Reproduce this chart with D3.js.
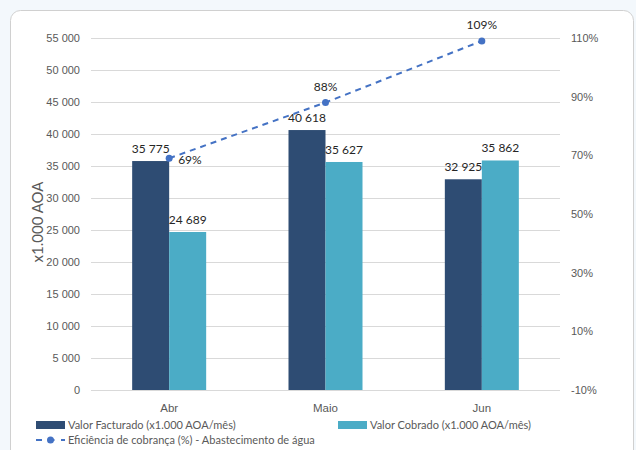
<!DOCTYPE html>
<html>
<head>
<meta charset="utf-8">
<script src="https://cdn.jsdelivr.net/npm/d3@7"></script>
<style>
  html, body { margin: 0; padding: 0; background: #f3f8fc; }
  svg { display: block; font-family: Lato, "Liberation Sans", sans-serif; }
</style>
</head>
<body>
<svg id="chart" width="636" height="450"></svg>
<script>
// Monthly billing vs. collection, with collection efficiency on the right axis
const months = ["Abr", "Maio", "Jun"];
const facturado = [35775, 40618, 32925];
const cobrado = [24689, 35627, 35862];
const eficiencia = [69, 88, 109];
const leftTicks = [0, 5000, 10000, 15000, 20000, 25000, 30000, 35000, 40000, 45000, 50000, 55000];
const rightTicks = [-10, 10, 30, 50, 70, 90, 110];
const seriesNames = ["Valor Facturado (x1.000 AOA/mês)", "Valor Cobrado (x1.000 AOA/mês)", "Eficiência de cobrança (%) - Abastecimento de água"];

const colors = { fact: "#2e4c73", cobr: "#4bacc6", line: "#4472c4", grid: "#d9d9d9", tick: "#595959", label: "#262626" };

const svg = d3.select("#chart");
const plot = { left: 91, right: 560, top: 38, bottom: 390 };

// Card background
svg.append("rect")
  .attr("x", 10.5).attr("y", 10.5)
  .attr("width", 623).attr("height", 460)
  .attr("rx", 10).attr("ry", 10)
  .attr("fill", "#ffffff").attr("stroke", "#d0d0d0");

const fmt = v => d3.format(",")(v).replace(/,/g, " ");

const x = d3.scaleBand().domain(months).range([plot.left, plot.right]).paddingInner(0).paddingOuter(0);
const y = d3.scaleLinear().domain([0, 55000]).range([plot.bottom, plot.top]);
const y2 = d3.scaleLinear().domain([-10, 110]).range([plot.bottom, plot.top]);
const barW = 37;

// Gridlines + left axis labels
const yAxis = d3.axisLeft(y).tickValues(leftTicks).tickSize(-(plot.right - plot.left)).tickFormat(fmt).tickPadding(11);
const gy = svg.append("g").attr("transform", `translate(${plot.left},0)`).call(yAxis);
gy.select(".domain").remove();
gy.selectAll(".tick line").attr("stroke", colors.grid).attr("stroke-width", 1);
gy.selectAll(".tick text").attr("fill", colors.tick).attr("font-size", 11);

// Right axis labels
const yAxis2 = d3.axisRight(y2).tickValues(rightTicks).tickSize(0).tickFormat(d => d + "%").tickPadding(11);
const gy2 = svg.append("g").attr("transform", `translate(${plot.right},0)`).call(yAxis2);
gy2.select(".domain").remove();
gy2.selectAll(".tick text").attr("fill", colors.tick).attr("font-size", 11);

// Category axis
const xAxis = d3.axisBottom(x).tickSize(0).tickPadding(14);
const gx = svg.append("g").attr("transform", `translate(0,${plot.bottom})`).call(xAxis);
gx.select(".domain").remove();
gx.selectAll(".tick text").attr("fill", colors.tick).attr("font-size", 11.5);

// Axis title
svg.append("text")
  .attr("transform", `translate(43,${(plot.top + plot.bottom) / 2 + 8}) rotate(-90)`)
  .attr("text-anchor", "middle")
  .attr("fill", colors.tick).attr("font-size", 15)
  .text("x1.000 AOA");

const cx = m => x(m) + x.bandwidth() / 2;

// Bars
const bars = svg.append("g");
bars.selectAll(".fact").data(months).join("rect")
  .attr("x", m => cx(m) - barW).attr("width", barW)
  .attr("y", (m, i) => y(facturado[i])).attr("height", (m, i) => plot.bottom - y(facturado[i]))
  .attr("fill", colors.fact);
bars.selectAll(".cobr").data(months).join("rect")
  .attr("x", m => cx(m)).attr("width", barW)
  .attr("y", (m, i) => y(cobrado[i])).attr("height", (m, i) => plot.bottom - y(cobrado[i]))
  .attr("fill", colors.cobr);

// Bar value labels
const labels = svg.append("g").attr("font-size", 12).attr("fill", colors.label).attr("text-anchor", "middle");
months.forEach((m, i) => {
  labels.append("text").attr("x", cx(m) - barW / 2).attr("y", y(facturado[i]) - 8).text(fmt(facturado[i]));
  labels.append("text").attr("x", cx(m) + barW / 2).attr("y", y(cobrado[i]) - 8).text(fmt(cobrado[i]));
});

// Efficiency line
const line = d3.line().x((d, i) => cx(months[i])).y(d => y2(d));
svg.append("path").datum(eficiencia)
  .attr("d", line).attr("fill", "none")
  .attr("stroke", colors.line).attr("stroke-width", 2).attr("stroke-dasharray", "6,5");
svg.append("g").selectAll("circle").data(eficiencia).join("circle")
  .attr("cx", (d, i) => cx(months[i])).attr("cy", d => y2(d)).attr("r", 3.5)
  .attr("fill", colors.line);

// Efficiency labels: first to the right of its point, others above
eficiencia.forEach((d, i) => {
  const t = svg.append("text").attr("font-size", 12).attr("fill", colors.label).text(d + "%");
  if (i === 0) {
    t.attr("x", cx(months[i]) + 9).attr("y", y2(d) + 6).attr("text-anchor", "start");
  } else {
    t.attr("x", cx(months[i])).attr("y", y2(d) - 12).attr("text-anchor", "middle");
  }
});

// Legend
const lg = svg.append("g").attr("font-size", 11).attr("fill", colors.tick);
lg.append("rect").attr("x", 36).attr("y", 421).attr("width", 29).attr("height", 8).attr("fill", colors.fact);
lg.append("text").attr("x", 68).attr("y", 429).text(seriesNames[0]);
lg.append("rect").attr("x", 338).attr("y", 421).attr("width", 29).attr("height", 8).attr("fill", colors.cobr);
lg.append("text").attr("x", 370).attr("y", 429).text(seriesNames[1]);
lg.append("line").attr("x1", 36).attr("x2", 65).attr("y1", 440).attr("y2", 440)
  .attr("stroke", colors.line).attr("stroke-width", 2).attr("stroke-dasharray", "6,6.5");
lg.append("circle").attr("cx", 50.5).attr("cy", 440).attr("r", 3.5).attr("fill", colors.line);
lg.append("text").attr("x", 68).attr("y", 444).text(seriesNames[2]);
</script>
</body>
</html>
